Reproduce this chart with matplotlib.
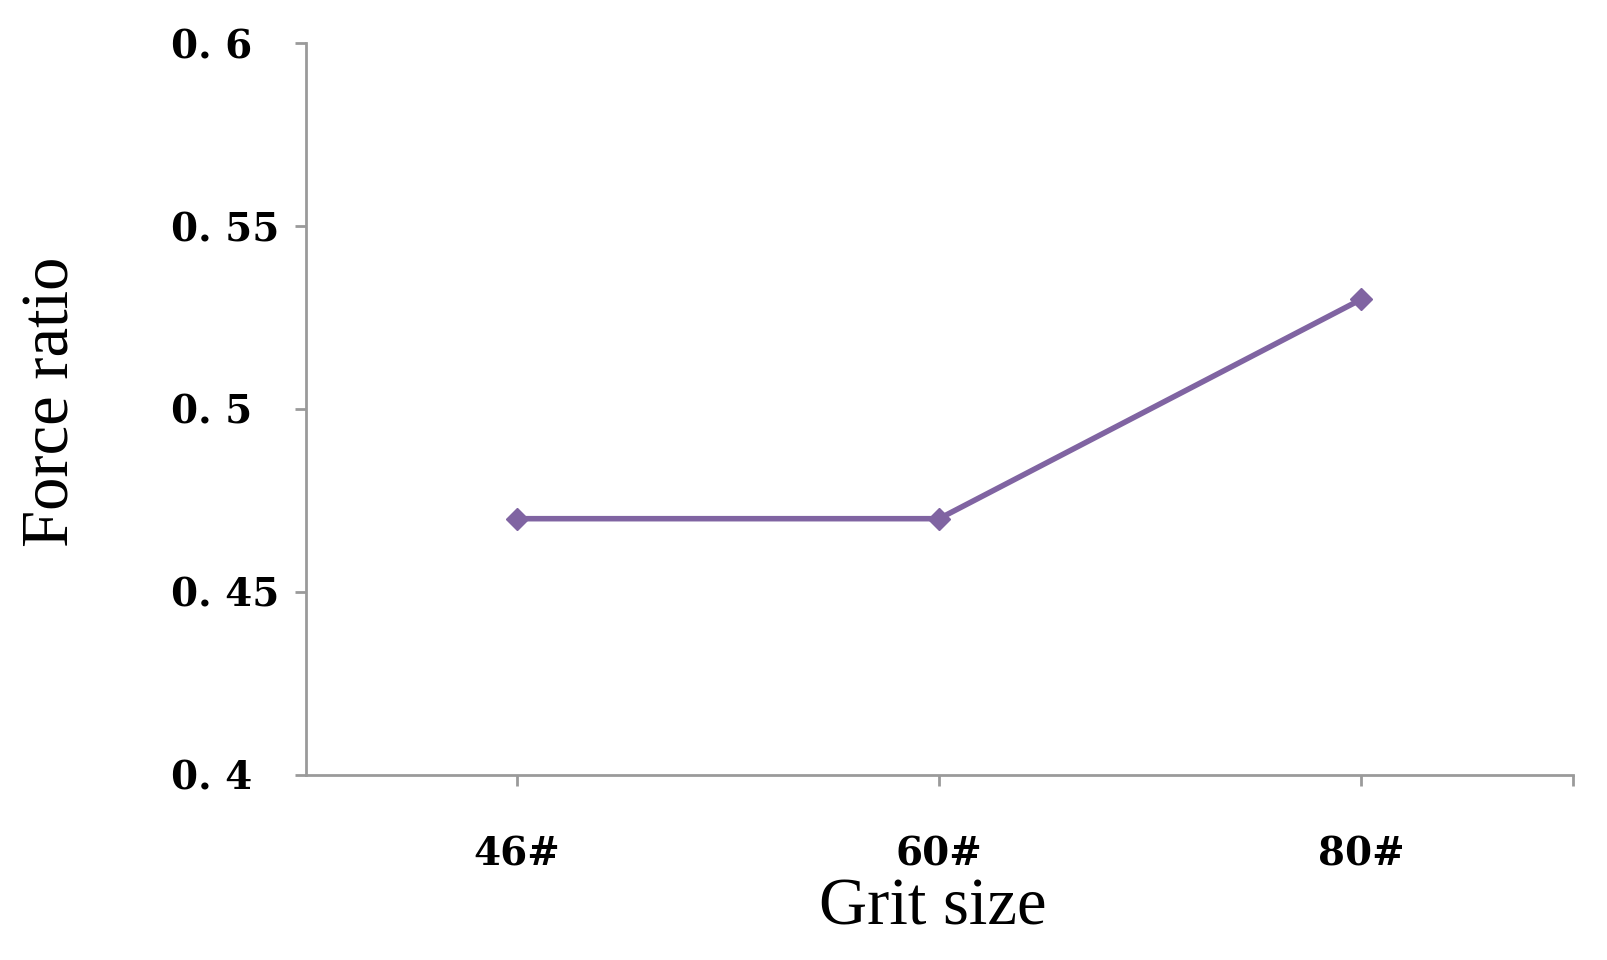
import numpy as np
import matplotlib.pyplot as plt

categories = ["46#", "60#", "80#"]
force_ratio = [0.47, 0.47, 0.53]
y_ticks = [0.4, 0.45, 0.5, 0.55, 0.6]
y_tick_labels = ["0. 4", "0. 45", "0. 5", "0. 55", "0. 6"]

fig = plt.figure(figsize=(16.08, 9.6), dpi=100)
ax = fig.add_axes([0.190, 0.193, 0.788, 0.762])

x = np.arange(len(categories))
ax.plot(x, force_ratio, color="#8064A2", linewidth=4, marker="D", markersize=11)

ax.set_xlim(-0.5, len(categories) - 0.5)
ax.set_ylim(0.4, 0.6)
ax.set_xticks(list(x) + [len(categories) - 0.5])
ax.set_xticklabels(categories + [""])
ax.set_yticks(y_ticks)
ax.set_yticklabels(y_tick_labels)

for s in ["top", "right"]:
    ax.spines[s].set_visible(False)
for s in ["left", "bottom"]:
    ax.spines[s].set_color("#9a9a9a")
    ax.spines[s].set_linewidth(2)

ax.tick_params(axis="both", color="#9a9a9a", width=2, length=8)
# y labels are left aligned in the original
ax.tick_params(axis="y", pad=89)
ax.tick_params(axis="x", pad=36)
for lab in ax.get_xticklabels() + ax.get_yticklabels():
    lab.set_fontfamily("DejaVu Serif")
    lab.set_fontweight("bold")
    lab.set_fontsize(28)
for lab in ax.get_yticklabels():
    lab.set_horizontalalignment("left")

ax.set_xlabel("Grit size", fontfamily="Liberation Serif", fontsize=48)
ax.set_ylabel("Force ratio", fontfamily="Liberation Serif", fontsize=48)
ax.xaxis.set_label_coords(0.495, -0.141)
ax.yaxis.set_label_coords(-0.176, 0.51)

fig.savefig("out.png", dpi=100)
